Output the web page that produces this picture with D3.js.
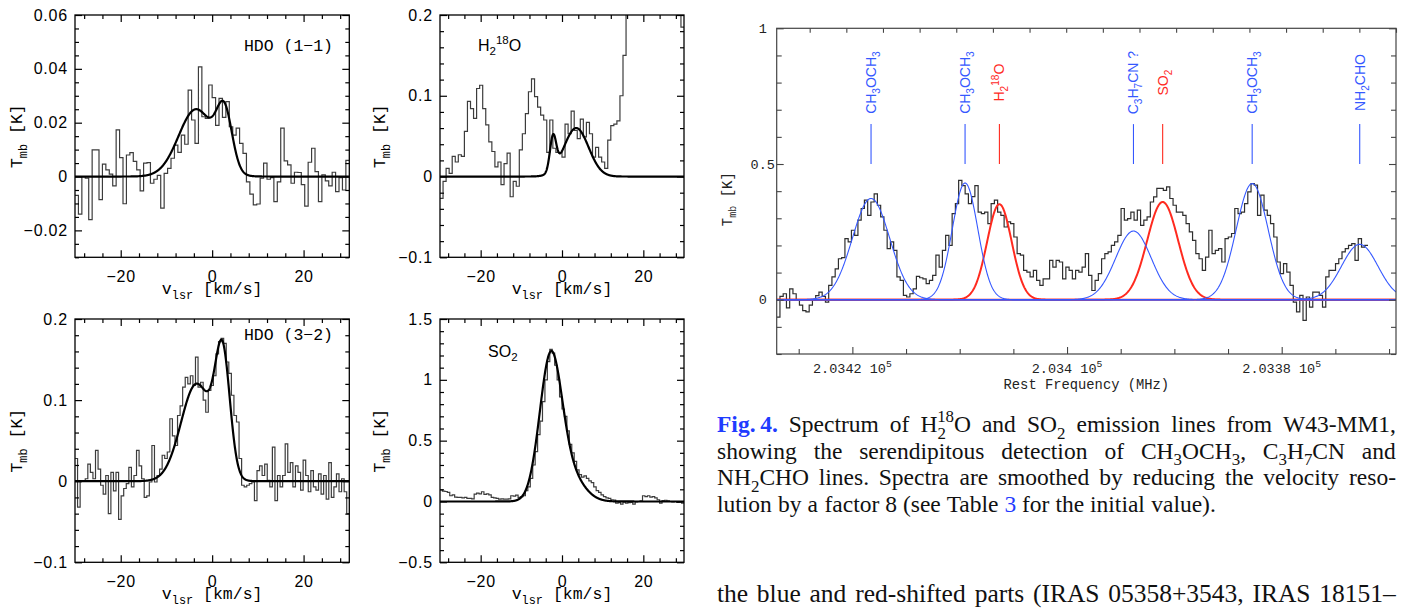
<!DOCTYPE html>
<html>
<head>
<meta charset="utf-8">
<script src="https://cdn.jsdelivr.net/npm/d3@7"></script>
<style>
  html, body { margin: 0; padding: 0; background: #fff; }
  svg { display: block; }
</style>
</head>
<body>
<svg id="fig" width="1410" height="610"></svg>
<script>
// ---------------------------------------------------------------------------
// Spectra (channel values in K). Velocity spectra start at -30 km/s.
// ---------------------------------------------------------------------------
const hdo11Values = [
  -0.007, -0.014, 0.000, -0.0006, -0.016, 0.0099, 0.0099, -0.0086, 0.0046, 0.0025,
  0.0009, -0.0035, 0.0173, 0.007, -0.0101, 0.008, 0.0089, 0.0056, 0.0025, -0.0053,
  0.005, 0.0052, -0.0025, -0.001, 0.0004, -0.0117, 0.0012, 0.003, 0.0068, 0.0117,
  0.009, 0.0154, 0.012, 0.0321, 0.021, 0.0123, 0.0407, 0.0222, 0.0216, 0.034,
  0.0293, 0.019, 0.029, 0.022, 0.0278, 0.0185, 0.0154, 0.018, 0.0123, 0.0086,
  -0.002, -0.0065, -0.0105, -0.0102, -0.0006, 0.005, -0.001, -0.0004, -0.0093, -0.002,
  0.018, 0.0058, 0.0043, -0.0025, 0.0016, 0.0015, -0.003, -0.011, 0.0053, 0.0105,
  0.0018, -0.0093, 0.0006, -0.0016, -0.0035, 0.0016, -0.0056, -0.0004, -0.005, 0.006
];
const hdo11ChannelKms = 0.75;

const h218oValues = [
  -0.027, -0.006, 0.010, 0.004, 0.025, 0.018, 0.027, 0.025, 0.056, 0.093,
  0.084, 0.072, 0.109, 0.113, 0.084, 0.064, 0.043, 0.031, 0.012, 0.018,
  -0.010, 0.016, 0.029, -0.025, -0.006, -0.012, 0.033, 0.053, 0.078, 0.105,
  0.121, 0.099, 0.086, 0.076, 0.070, 0.030, 0.070, 0.035, 0.030, 0.030,
  0.024, 0.065, 0.053, 0.081, 0.057, 0.047, 0.071, 0.049, 0.067, 0.053,
  0.024, 0.036, 0.024, 0.018, 0.010, 0.045, 0.063, 0.065, 0.069, 0.100,
  0.150, 0.230, 0.280, 0.330, 0.370, 0.400, 0.430, 0.450, 0.470, 0.480,
  0.490, 0.480, 0.460, 0.430, 0.400, 0.360, 0.320, 0.280, 0.240, 0.185
];
const h218oChannelKms = 0.75;

const hdo32Values = [
  0.028, -0.032, 0.0, 0.0, 0.003, 0.021, 0.011, 0.003, 0.038, 0.015,
  -0.005, -0.016, 0.007, -0.040, 0.011, -0.012, 0.011, -0.047, -0.018, -0.009,
  -0.003, 0.017, -0.007, 0.007, 0.038, 0.019, 0.003, -0.020, -0.018, -0.001,
  0.044, -0.001, 0.007, 0.015, 0.032, 0.028, 0.036, 0.077, 0.056, 0.044,
  0.081, 0.093, 0.116, 0.128, 0.120, 0.130, 0.118, 0.153, 0.116, 0.122,
  0.100, 0.085, 0.112, 0.118, 0.130, 0.157, 0.172, 0.176, 0.170, 0.147,
  0.133, 0.106, 0.081, 0.073, 0.028, -0.005, -0.007, -0.005, -0.003, -0.001,
  -0.024, 0.013, 0.019, 0.007, 0.021, 0.001, -0.007, 0.042, -0.024, 0.007,
  -0.007, 0.007, 0.046, 0.011, 0.023, -0.007, 0.019, 0.011, -0.011, 0.026,
  0.007, -0.013, 0.013, -0.007, -0.011, 0.009, -0.016, 0.007, -0.022, 0.023,
  -0.020, -0.007, 0.009, -0.013, 0.003, -0.013, -0.040
];
const hdo32ChannelKms = 0.5607;

const so2Values = [
  0.096, 0.085, 0.082, 0.074, 0.047, 0.055, 0.036, 0.033, 0.033, 0.030,
  0.033, 0.025, 0.025, 0.022, 0.060, 0.069, 0.062, 0.080, 0.058, 0.062,
  0.055, 0.033, 0.030, 0.025, 0.019, 0.022, 0.019, 0.019, 0.022, 0.047,
  0.044, 0.052, 0.033, 0.040, 0.047, 0.088, 0.120, 0.190, 0.300, 0.410,
  0.550, 0.660, 0.820, 1.000, 1.150, 1.250, 1.220, 1.120, 1.000, 0.860,
  0.760, 0.700, 0.580, 0.470, 0.400, 0.330, 0.260, 0.220, 0.200, 0.210,
  0.190, 0.170, 0.155, 0.120, 0.090, 0.075, 0.055, 0.040, 0.030, 0.025,
  0.014, 0.012, -0.014, -0.010, -0.022, -0.005, -0.014, -0.010, -0.008, -0.022,
  -0.003, 0.000, 0.005, 0.047, 0.040, 0.047, 0.036, 0.040, 0.030, 0.014,
  -0.014, 0.008, 0.010, 0.005, 0.000, -0.003, 0.000, -0.008, -0.005, -0.014
];
const so2ChannelKms = 0.6;

// Gaussian fit components: amplitude (K), centre (km/s), FWHM (km/s)
const hdo11Fit = [
  { amp: 0.025, center: -3.5, fwhm: 9.0 },
  { amp: 0.0208, center: 2.7, fwhm: 4.0 }
];
const h218oFit = [
  { amp: 0.042, center: -2.2, fwhm: 1.8 },
  { amp: 0.060, center: 3.5, fwhm: 7.15 }
];
const hdo32Fit = [
  { amp: 0.12, center: -3.4, fwhm: 8.0 },
  { amp: 0.143, center: 2.3, fwhm: 3.8 }
];
const so2Fit = [
  { amp: 1.16, center: -2.8, fwhm: 6.4 },
  { amp: 0.20, center: 2.0, fwhm: 8.0 }
];

// Velocity axes
const velDomain = [-30, 30];
const velMajorTicks = [-20, 0, 20];
const velMajorLabels = ["\u221220", "0", "20"];
const velMinorStep = 4;

const hdo11YTicks = [-0.02, 0, 0.02, 0.04, 0.06];
const hdo11YLabels = ["\u22120.02", "0", "0.02", "0.04", "0.06"];
const h218oYTicks = [-0.1, 0, 0.1, 0.2];
const h218oYLabels = ["\u22120.1", "0", "0.1", "0.2"];
const hdo32YTicks = [-0.1, 0, 0.1, 0.2];
const hdo32YLabels = ["\u22120.1", "0", "0.1", "0.2"];
const so2YTicks = [-0.5, 0, 0.5, 1, 1.5];
const so2YLabels = ["\u22120.5", "0", "0.5", "1", "1.5"];

// ---------------------------------------------------------------------------
// Frequency spectrum around 203.4 GHz (K per channel, frequency decreasing)
// ---------------------------------------------------------------------------
const specValues = [
  -0.064, 0.012, 0.022, -0.030, 0.040, 0.022, 0.000, -0.020, -0.040, -0.045,
  -0.020, -0.002, 0.015, 0.028, 0.012, -0.009, 0.053, 0.084, 0.114, 0.151,
  0.155, 0.225, 0.213, 0.256, 0.237, 0.293, 0.336, 0.367, 0.311, 0.360,
  0.390, 0.348, 0.305, 0.256, 0.188, 0.213, 0.182, 0.084, 0.071, 0.016,
  0.010, 0.022, 0.040, 0.086, 0.081, 0.077, 0.059, 0.071, 0.090, 0.164,
  0.120, 0.182, 0.237, 0.200, 0.317, 0.354, 0.440, 0.420, 0.390, 0.354,
  0.380, 0.420, 0.323, 0.317, 0.323, 0.280, 0.354, 0.367, 0.323, 0.311,
  0.268, 0.287, 0.280, 0.231, 0.170, 0.164, 0.108, 0.102, 0.084, 0.108,
  0.071, 0.053, 0.077, 0.077, 0.145, 0.120, 0.145, 0.139, 0.077, 0.120,
  0.108, 0.077, 0.108, 0.102, 0.120, 0.170, 0.090, 0.034, 0.071, 0.096,
  0.151, 0.170, 0.176, 0.200, 0.213, 0.237, 0.336, 0.293, 0.299, 0.323,
  0.293, 0.330, 0.274, 0.293, 0.305, 0.360, 0.379, 0.410, 0.410, 0.403,
  0.416, 0.373, 0.348, 0.323, 0.323, 0.311, 0.280, 0.250, 0.219, 0.170,
  0.151, 0.108, 0.157, 0.256, 0.170, 0.182, 0.188, 0.139, 0.225, 0.231,
  0.244, 0.336, 0.317, 0.323, 0.354, 0.397, 0.428, 0.422, 0.311, 0.385,
  0.330, 0.311, 0.280, 0.231, 0.139, 0.096, 0.133, 0.102, 0.053, -0.009,
  -0.045, 0.016, -0.076, 0.010, -0.027, 0.028, 0.028, 0.016, -0.027, 0.084,
  0.108, 0.108, 0.133, 0.151, 0.176, 0.188, 0.200, 0.207, 0.145, 0.225,
  0.194, 0.200
];
const specStartMHz = 203427.05;
const specChannelMHz = -0.3027;

// Identified lines: rest frequency, fitted amplitude and width
const lineFreqMHz = [203418.26, 203409.5, 203406.3, 203393.81, 203391.09, 203382.75, 203372.73];
const lineAmpK    = [0.373, 0.43, 0.352, 0.253, 0.36, 0.428, 0.204];
const lineFwhmMHz = [4.1, 2.8, 2.7, 3.9, 3.4, 3.5, 4.0];
const lineFamily  = ["com", "com", "target", "com", "target", "com", "com"];
const lineNames = [
  [{ t: "CH" }, { t: "3", s: "sub" }, { t: "OCH" }, { t: "3", s: "sub" }],
  [{ t: "CH" }, { t: "3", s: "sub" }, { t: "OCH" }, { t: "3", s: "sub" }],
  [{ t: "H" }, { t: "2", s: "sub" }, { t: "18", s: "sup" }, { t: "O" }],
  [{ t: "C" }, { t: "3", s: "sub" }, { t: "H" }, { t: "7", s: "sub" }, { t: "CN ?" }],
  [{ t: "SO" }, { t: "2", s: "sub" }],
  [{ t: "CH" }, { t: "3", s: "sub" }, { t: "OCH" }, { t: "3", s: "sub" }],
  [{ t: "NH" }, { t: "2", s: "sub" }, { t: "CHO" }]
];
const markerFromK = 0.5, markerToK = 0.647, markerLabelK = 0.8;

const specYDomain = [-0.2, 1];
const specYTicks = [0, 0.5, 1];
const specYLabels = ["0", "0.5", "1"];
const specXTicksMHz = [203420, 203400, 203380];
const specXLabels = ["2.0342", "2.034", "2.0338"];
const specDomainMHz = [203427.05, 203369.35];
const topVelocityKms = [-39.5, 45.0];

// ---------------------------------------------------------------------------
const svg = d3.select("#fig");
const defs = svg.append("defs");
const SANS = "'Liberation Sans', Arial, sans-serif";
const MONO = "'Liberation Mono', 'DejaVu Sans Mono', monospace";
const SERIF = "'Liberation Serif', 'Times New Roman', serif";
const BLUE = "#3558ff", RED = "#ff2a1f", LINKBLUE = "#1f3cff";

function gaussSum(comps, v) {
  return d3.sum(comps, c => c.amp * Math.exp(-4 * Math.LN2 * Math.pow((v - c.center) / c.fwhm, 2)));
}

// histogram outline: each channel contributes its two edges
function stepPoints(values, start, width) {
  const pts = [];
  values.forEach((val, i) => {
    const a = start + i * width;
    pts.push([a, val], [a + width, val]);
  });
  return pts;
}

// text with sub/superscripts as tspans
function richText(sel, parts, size) {
  let cur = 0;
  parts.forEach(p => {
    const off = p.s === "sub" ? 0.28 * size : p.s === "sup" ? -0.42 * size : 0;
    const ts = sel.append("tspan").text(p.t)
      .attr("dy", (off - cur).toFixed(2))
      .attr("font-size", p.s ? (0.72 * size).toFixed(2) : size);
    if (p.dx) ts.attr("dx", p.dx);
    if (p.bold) ts.attr("font-weight", "bold");
    if (p.fill) ts.attr("fill", p.fill);
    cur = off;
  });
  return sel;
}

function minorTicks(domain, step, majors) {
  const lo = Math.ceil(domain[0] / step - 1e-9), hi = Math.floor(domain[1] / step + 1e-9);
  return d3.range(lo, hi + 1).map(k => +(k * step).toFixed(6))
    .filter(v => !majors.some(m => Math.abs(m - v) < step * 1e-3));
}

function styleAxis(g, color, width) {
  g.attr("color", color);
  g.select(".domain").remove();
  g.selectAll(".tick line").attr("stroke-width", width);
}

// ---------------------------------------------------------------------------
// Velocity panels
// ---------------------------------------------------------------------------
function velocityPanel(o) {
  const b = o.box;
  const g = svg.append("g");
  const x = d3.scaleLinear().domain(velDomain).range([b.left, b.right]);
  const y = d3.scaleLinear().domain(o.yDomain).range([b.bottom, b.top]);
  const clipId = "clip-" + o.key;
  defs.append("clipPath").attr("id", clipId).append("rect")
    .attr("x", b.left).attr("y", b.top)
    .attr("width", b.right - b.left).attr("height", b.bottom - b.top);
  const line = d3.line().x(d => x(d[0])).y(d => y(d[1]));

  g.append("path")
    .datum(stepPoints(o.values, velDomain[0], o.dv))
    .attr("clip-path", `url(#${clipId})`)
    .attr("d", line).attr("fill", "none")
    .attr("stroke", "#3c3c3c").attr("stroke-width", 1.2);

  const model = d3.range(velDomain[0], velDomain[1] + 1e-9, 0.05).map(v => [v, gaussSum(o.fit, v)]);
  g.append("path").datum(model)
    .attr("clip-path", `url(#${clipId})`)
    .attr("d", line).attr("fill", "none")
    .attr("stroke", "#000").attr("stroke-width", 2.2).attr("stroke-linejoin", "round");

  // ticks on all four sides, pointing inward
  const xMinor = minorTicks(velDomain, velMinorStep, velMajorTicks);
  const yMinor = minorTicks(o.yDomain, o.yMinorStep, o.yTicks);

  const bottom = g.append("g").attr("transform", `translate(0,${b.bottom})`)
    .call(d3.axisBottom(x).tickValues(velMajorTicks).tickSize(-7).tickPadding(13)
      .tickFormat((d, i) => velMajorLabels[i]));
  styleAxis(bottom, "#000", 1.2);
  g.append("g").attr("transform", `translate(0,${b.bottom})`)
    .call(d3.axisBottom(x).tickValues(xMinor).tickSize(-4).tickFormat(""))
    .call(a => styleAxis(a, "#000", 1.2));
  g.append("g").attr("transform", `translate(0,${b.top})`)
    .call(d3.axisTop(x).tickValues(velMajorTicks).tickSize(-7).tickFormat(""))
    .call(a => styleAxis(a, "#000", 1.2));
  g.append("g").attr("transform", `translate(0,${b.top})`)
    .call(d3.axisTop(x).tickValues(xMinor).tickSize(-4).tickFormat(""))
    .call(a => styleAxis(a, "#000", 1.2));

  const left = g.append("g").attr("transform", `translate(${b.left},0)`)
    .call(d3.axisLeft(y).tickValues(o.yTicks).tickSize(-7).tickPadding(7)
      .tickFormat((d, i) => o.yLabels[i]));
  styleAxis(left, "#000", 1.2);
  g.append("g").attr("transform", `translate(${b.left},0)`)
    .call(d3.axisLeft(y).tickValues(yMinor).tickSize(-4).tickFormat(""))
    .call(a => styleAxis(a, "#000", 1.2));
  g.append("g").attr("transform", `translate(${b.right},0)`)
    .call(d3.axisRight(y).tickValues(o.yTicks).tickSize(-7).tickFormat(""))
    .call(a => styleAxis(a, "#000", 1.2));
  g.append("g").attr("transform", `translate(${b.right},0)`)
    .call(d3.axisRight(y).tickValues(yMinor).tickSize(-4).tickFormat(""))
    .call(a => styleAxis(a, "#000", 1.2));

  [bottom, left].forEach(a => a.selectAll(".tick text")
    .attr("font-family", SANS).attr("font-size", 16).attr("letter-spacing", 0.8).attr("fill", "#000"));

  g.append("rect")
    .attr("x", b.left).attr("y", b.top)
    .attr("width", b.right - b.left).attr("height", b.bottom - b.top)
    .attr("fill", "none").attr("stroke", "#000").attr("stroke-width", 1.3);

  // axis titles
  richText(g.append("text")
    .attr("x", (b.left + b.right) / 2).attr("y", b.bottom + 37)
    .attr("text-anchor", "middle").attr("font-family", MONO).attr("font-size", 16.5),
    [{ t: "v" }, { t: "lsr", s: "sub" }, { t: " [km/s]" }], 16.5);
  richText(g.append("text")
    .attr("transform", `translate(${b.left - o.yTitleGap},${(b.top + b.bottom) / 2}) rotate(-90)`)
    .attr("text-anchor", "middle").attr("font-family", MONO).attr("font-size", 16.5),
    [{ t: "T" }, { t: "mb", s: "sub" }, { t: " [K]" }], 16.5);

  // species label
  const lab = g.append("text")
    .attr("x", o.label.x).attr("y", o.label.y)
    .attr("text-anchor", o.label.anchor)
    .attr("font-family", o.label.font).attr("font-size", o.label.size);
  richText(lab, o.label.parts, o.label.size);
}

velocityPanel({
  key: "hdo11", values: hdo11Values, dv: hdo11ChannelKms, fit: hdo11Fit,
  yDomain: [-0.03, 0.06], yTicks: hdo11YTicks, yLabels: hdo11YLabels, yMinorStep: 0.005,
  box: { left: 75, right: 349.3, top: 15, bottom: 257.3 }, yTitleGap: 53,
  label: { x: 333, y: 51, anchor: "end", font: MONO, size: 16.5, parts: [{ t: "HDO (1\u22121)" }] }
});
velocityPanel({
  key: "h218o", values: h218oValues, dv: h218oChannelKms, fit: h218oFit,
  yDomain: [-0.1, 0.2], yTicks: h218oYTicks, yLabels: h218oYLabels, yMinorStep: 0.02,
  box: { left: 440, right: 684, top: 15, bottom: 257.3 }, yTitleGap: 55,
  label: { x: 478, y: 50.5, anchor: "start", font: SANS, size: 16,
    parts: [{ t: "H" }, { t: "2", s: "sub" }, { t: "18", s: "sup" }, { t: "O" }] }
});
velocityPanel({
  key: "hdo32", values: hdo32Values, dv: hdo32ChannelKms, fit: hdo32Fit,
  yDomain: [-0.1, 0.2], yTicks: hdo32YTicks, yLabels: hdo32YLabels, yMinorStep: 0.02,
  box: { left: 75, right: 349.3, top: 319, bottom: 562.3 }, yTitleGap: 53,
  label: { x: 333, y: 340, anchor: "end", font: MONO, size: 16.5, parts: [{ t: "HDO (3\u22122)" }] }
});
velocityPanel({
  key: "so2", values: so2Values, dv: so2ChannelKms, fit: so2Fit,
  yDomain: [-0.5, 1.5], yTicks: so2YTicks, yLabels: so2YLabels, yMinorStep: 0.1,
  box: { left: 440, right: 684, top: 319, bottom: 562.3 }, yTitleGap: 55,
  label: { x: 488, y: 357, anchor: "start", font: SANS, size: 16,
    parts: [{ t: "SO" }, { t: "2", s: "sub" }] }
});

// ---------------------------------------------------------------------------
// Frequency panel
// ---------------------------------------------------------------------------
(function frequencyPanel() {
  const b = { left: 776.7, right: 1396, top: 28.3, bottom: 354 };
  const g = svg.append("g");
  const x = d3.scaleLinear().domain(specDomainMHz).range([b.left, b.right]);
  const xv = d3.scaleLinear().domain(topVelocityKms).range([b.left, b.right]);
  const y = d3.scaleLinear().domain(specYDomain).range([b.bottom, b.top]);
  const line = d3.line().x(d => x(d[0])).y(d => y(d[1]));
  defs.append("clipPath").attr("id", "clip-spec").append("rect")
    .attr("x", b.left).attr("y", b.top)
    .attr("width", b.right - b.left).attr("height", b.bottom - b.top);

  g.append("path")
    .datum(stepPoints(specValues, specStartMHz, specChannelMHz))
    .attr("clip-path", "url(#clip-spec)")
    .attr("d", line).attr("fill", "none")
    .attr("stroke", "#2e2e2e").attr("stroke-width", 1.2);

  const freqs = d3.range(0, 1201).map(i => specDomainMHz[0] + (specDomainMHz[1] - specDomainMHz[0]) * i / 1200);
  const order = d3.range(lineFreqMHz.length).sort((a, b2) =>
    (lineFamily[a] === "target" ? 0 : 1) - (lineFamily[b2] === "target" ? 0 : 1));
  order.forEach(i => {
    const comp = [{ amp: lineAmpK[i], center: lineFreqMHz[i], fwhm: lineFwhmMHz[i] }];
    const target = lineFamily[i] === "target";
    g.append("path")
      .datum(freqs.map(f => [f, gaussSum(comp, f)]))
      .attr("clip-path", "url(#clip-spec)")
      .attr("d", line).attr("fill", "none")
      .attr("stroke", target ? RED : BLUE)
      .attr("stroke-width", target ? 2 : 1.1);
  });

  // line markers and names
  lineFreqMHz.forEach((f, i) => {
    const col = lineFamily[i] === "target" ? RED : BLUE;
    g.append("line")
      .attr("x1", x(f)).attr("x2", x(f))
      .attr("y1", y(markerFromK)).attr("y2", y(markerToK))
      .attr("stroke", col).attr("stroke-width", 1.1);
    const t = g.append("text")
      .attr("transform", `translate(${x(f) + 5},${y(markerLabelK)}) rotate(-90)`)
      .attr("text-anchor", "middle")
      .attr("font-family", SANS).attr("font-size", 14).attr("fill", col);
    richText(t, lineNames[i], 14);
  });

  // axes
  const AX = "#444";
  const fMinor = minorTicks([specDomainMHz[1], specDomainMHz[0]], 5, specXTicksMHz);
  const yMinor = minorTicks(specYDomain, 0.1, specYTicks);
  const vTicks = minorTicks(topVelocityKms, 5, []);
  g.append("g").attr("transform", `translate(0,${b.bottom})`)
    .call(d3.axisBottom(x).tickValues(specXTicksMHz).tickSize(-7).tickFormat(""))
    .call(a => styleAxis(a, AX, 1.1));
  g.append("g").attr("transform", `translate(0,${b.bottom})`)
    .call(d3.axisBottom(x).tickValues(fMinor).tickSize(-5).tickFormat(""))
    .call(a => styleAxis(a, AX, 1.1));
  g.append("g").attr("transform", `translate(0,${b.top})`)
    .call(d3.axisTop(xv).tickValues(vTicks).tickSize(-4.5).tickFormat(""))
    .call(a => styleAxis(a, AX, 1.1));
  g.append("g").attr("transform", `translate(${b.left},0)`)
    .call(d3.axisLeft(y).tickValues(specYTicks).tickSize(-7).tickFormat(""))
    .call(a => styleAxis(a, AX, 1.1));
  g.append("g").attr("transform", `translate(${b.left},0)`)
    .call(d3.axisLeft(y).tickValues(yMinor).tickSize(-5).tickFormat(""))
    .call(a => styleAxis(a, AX, 1.1));
  g.append("g").attr("transform", `translate(${b.right},0)`)
    .call(d3.axisRight(y).tickValues(specYTicks).tickSize(-7).tickFormat(""))
    .call(a => styleAxis(a, AX, 1.1));
  g.append("g").attr("transform", `translate(${b.right},0)`)
    .call(d3.axisRight(y).tickValues(yMinor).tickSize(-5).tickFormat(""))
    .call(a => styleAxis(a, AX, 1.1));

  g.append("rect")
    .attr("x", b.left).attr("y", b.top)
    .attr("width", b.right - b.left).attr("height", b.bottom - b.top)
    .attr("fill", "none").attr("stroke", AX).attr("stroke-width", 1.2);

  specYTicks.forEach((v, i) => {
    g.append("text").attr("x", b.left - 14).attr("y", y(v)).attr("dy", "0.35em")
      .attr("text-anchor", "middle").attr("font-family", MONO).attr("font-size", 13.5)
      .attr("fill", "#222").text(specYLabels[i]);
  });
  specXTicksMHz.forEach((f, i) => {
    const t = g.append("text").attr("x", x(f)).attr("y", b.bottom + 19)
      .attr("text-anchor", "middle").attr("font-family", MONO).attr("font-size", 13.5)
      .attr("fill", "#222");
    richText(t, [{ t: specXLabels[i] + " 10" }, { t: "5", s: "sup" }], 13.5);
  });
  g.append("text").attr("x", (b.left + b.right) / 2).attr("y", b.bottom + 34.5)
    .attr("text-anchor", "middle").attr("font-family", MONO).attr("font-size", 13.8)
    .attr("fill", "#222").text("Rest Frequency (MHz)");
  richText(g.append("text")
    .attr("transform", `translate(${b.left - 45},${(b.top + b.bottom) / 2 + 8}) rotate(-90)`)
    .attr("text-anchor", "middle").attr("font-family", MONO).attr("font-size", 14)
    .attr("fill", "#222"),
    [{ t: "T" }, { t: "mb", s: "sub" }, { t: " [K]" }], 14);
})();

// ---------------------------------------------------------------------------
// Caption and running text (justified)
// ---------------------------------------------------------------------------
const capSize = 23.5;
const w = s => s.split(" ").map(t => [{ t }]);
const captionLines = [
  { y: 432, size: capSize, justify: true, words: [
    [{ t: "Fig.\u20094.", bold: true, fill: LINKBLUE }],
    ...w("Spectrum of"),
    [{ t: "H" }, { t: "2", s: "sub" }, { t: "18", s: "sup", dx: -0.37 * capSize }, { t: "O" }],
    ...w("and"),
    [{ t: "SO" }, { t: "2", s: "sub" }],
    ...w("emission lines from W43-MM1,")
  ] },
  { y: 458.5, size: capSize, justify: true, words: [
    ...w("showing the serendipitous detection of"),
    [{ t: "CH" }, { t: "3", s: "sub" }, { t: "OCH" }, { t: "3", s: "sub" }, { t: "," }],
    [{ t: "C" }, { t: "3", s: "sub" }, { t: "H" }, { t: "7", s: "sub" }, { t: "CN" }],
    ...w("and")
  ] },
  { y: 485, size: capSize, justify: true, words: [
    [{ t: "NH" }, { t: "2", s: "sub" }, { t: "CHO" }],
    ...w("lines. Spectra are smoothed by reducing the velocity reso-")
  ] },
  { y: 511.5, size: capSize, justify: false, words: [
    ...w("lution by a factor 8 (see Table"),
    [{ t: "3", fill: LINKBLUE }],
    ...w("for the initial value).")
  ] },
  { y: 602, size: 25.5, justify: true, words: w("the blue and red-shifted parts (IRAS 05358+3543, IRAS 18151\u2013") }
];
const capLeft = 717, capRight = 1396;
const capG = svg.append("g");
captionLines.forEach(L => {
  const nodes = L.words.map(parts => {
    const t = capG.append("text").attr("y", L.y)
      .attr("font-family", SERIF).attr("font-size", L.size).attr("fill", "#111");
    richText(t, parts, L.size);
    return t;
  });
  const widths = nodes.map(n => n.node().getBBox().width);
  const gap = L.justify
    ? (capRight - capLeft - d3.sum(widths)) / (nodes.length - 1)
    : L.size * 0.25;
  let xPos = capLeft;
  nodes.forEach((n, i) => { n.attr("x", xPos); xPos += widths[i] + gap; });
});
</script>
</body>
</html>
